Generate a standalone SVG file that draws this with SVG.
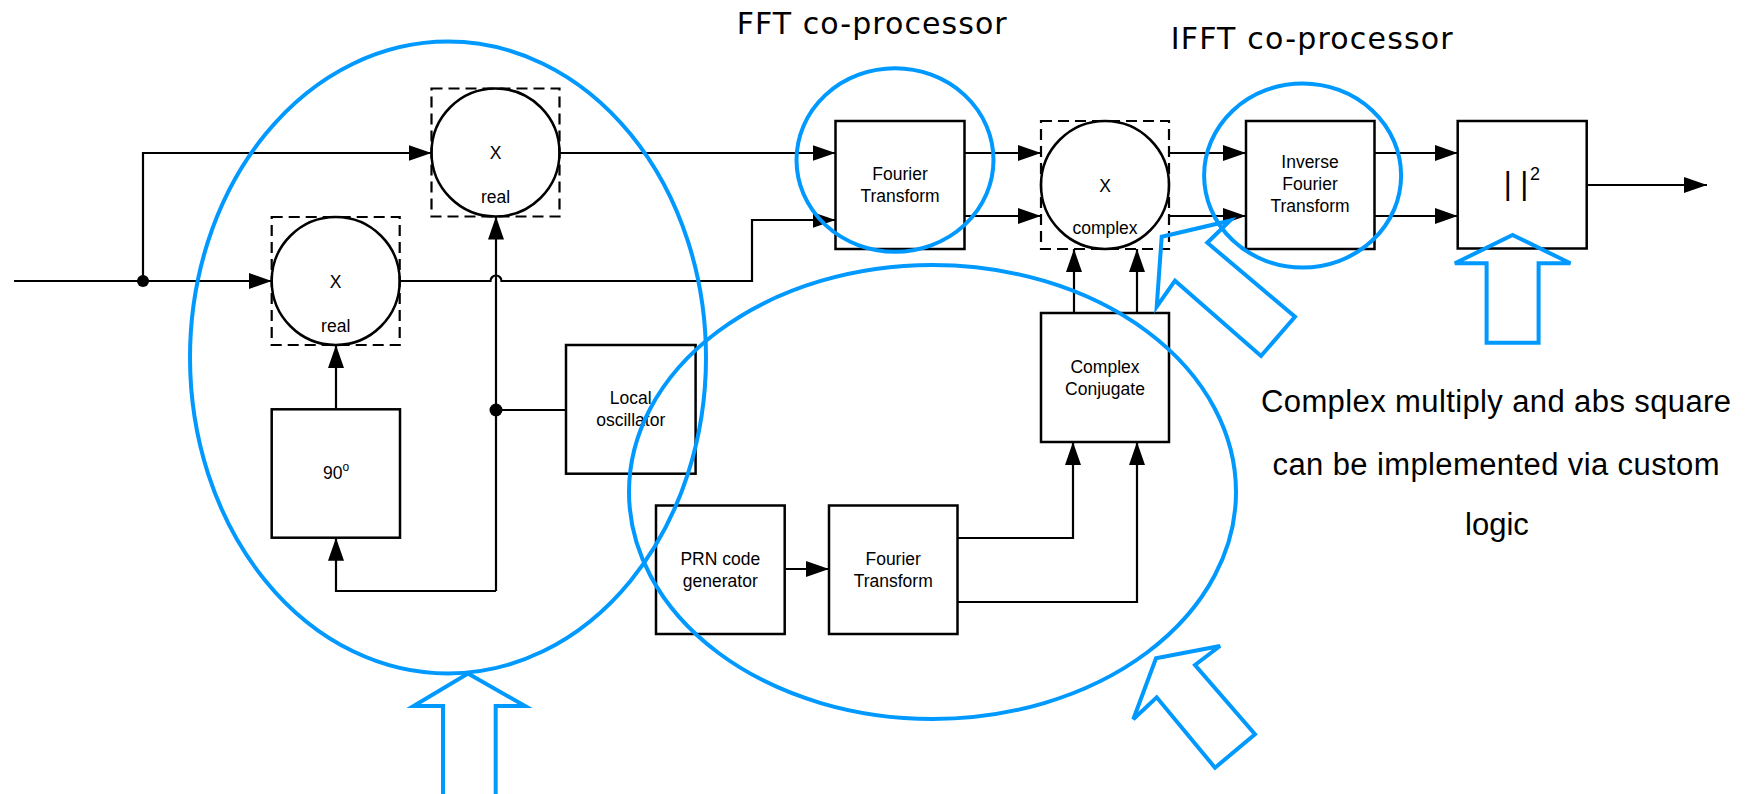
<svg xmlns="http://www.w3.org/2000/svg" width="1747" height="794" viewBox="0 0 1747 794">
<defs>
<marker id="ah" markerUnits="userSpaceOnUse" markerWidth="24" markerHeight="16" refX="23" refY="8" orient="auto"><path d="M0,0 L23,8 L0,16 z" fill="#000"/></marker>
<style>
.box{fill:#fff;stroke:#000;stroke-width:2.5}
.circ{fill:#fff;stroke:#000;stroke-width:2.5}
.dash{fill:none;stroke:#000;stroke-width:2.2;stroke-dasharray:11 6}
.lbl{font-family:"Liberation Sans",Arial,sans-serif;font-size:17.5px;fill:#000;text-anchor:middle}
.wire{fill:none;stroke:#000;stroke-width:2.2}
.arr{marker-end:url(#ah)}
.blue{fill:none;stroke:#0099ff;stroke-width:4}
.title{font-family:"DejaVu Sans",Verdana,sans-serif;font-size:30px;fill:#000}
.note{font-family:"Liberation Sans",Arial,sans-serif;font-size:31px;fill:#000;text-anchor:middle}
</style>
</defs>
<rect width="1747" height="794" fill="#fff"/>

<g id="connectors">
<path class="wire arr" d="M14,281 H271.7"/>
<path class="wire arr" d="M143,281 V153 H431.5"/>
<path class="wire arr" d="M559.5,153 H835.5"/>
<path class="wire arr" d="M399.7,281 H490.5 A5.5,5.5 0 0 1 501.5,281 H752 V220 H835.5"/>
<path class="wire arr" d="M964.5,153 H1041"/>
<path class="wire arr" d="M964.5,216 H1041"/>
<path class="wire arr" d="M1169,153 H1246"/>
<path class="wire arr" d="M1169,216 H1246"/>
<path class="wire arr" d="M1374.5,153 H1457.7"/>
<path class="wire arr" d="M1374.5,216 H1457.7"/>
<path class="wire arr" d="M1586.7,185 H1707"/>
<path class="wire arr" d="M1074,313 V249"/>
<path class="wire arr" d="M1137,313 V249"/>
<path class="wire arr" d="M957.5,538 H1073 V442"/>
<path class="wire arr" d="M957.5,602 H1137 V442"/>
<path class="wire arr" d="M784.7,569 H829"/>
<path class="wire" d="M566,410 H496"/>
<path class="wire arr" d="M496,591 V216.5"/>
<path class="wire arr" d="M496,591 H336 V537.7"/>
<path class="wire arr" d="M336,409.3 V345"/>
<circle cx="143" cy="281" r="6" fill="#000"/>
<circle cx="496" cy="410" r="6.5" fill="#000"/>
</g>

<g id="mult-real-top">
<circle class="circ" cx="495.5" cy="152.5" r="64"/>
<rect class="dash" x="431.5" y="88.5" width="128" height="128"/>
<text class="lbl" x="495.5" y="159">X</text>
<text class="lbl" x="495.5" y="203">real</text>
</g>

<g id="mult-real-bottom">
<circle class="circ" cx="335.7" cy="281" r="64"/>
<rect class="dash" x="271.7" y="217" width="128" height="128"/>
<text class="lbl" x="335.7" y="287.5">X</text>
<text class="lbl" x="335.7" y="331.5">real</text>
</g>

<g id="phase90">
<rect class="box" x="271.7" y="409.3" width="128.3" height="128.4"/>
<text class="lbl" x="336" y="479.3">90<tspan font-size="12px" dy="-8.6">o</tspan></text>
</g>

<g id="local-osc">
<rect class="box" x="566" y="345" width="129.6" height="128.7"/>
<text class="lbl" x="630.7" y="404">Local</text>
<text class="lbl" x="630.7" y="425.7">oscillator</text>
</g>

<g id="fft">
<rect class="box" x="835.5" y="121" width="129" height="128"/>
<text class="lbl" x="900" y="180">Fourier</text>
<text class="lbl" x="900" y="201.5">Transform</text>
</g>

<g id="mult-complex">
<circle class="circ" cx="1105" cy="185" r="64"/>
<rect class="dash" x="1041" y="121" width="128" height="128"/>
<text class="lbl" x="1105" y="191.7">X</text>
<text class="lbl" x="1105" y="234">complex</text>
</g>

<g id="ifft">
<rect class="box" x="1246" y="121" width="128.5" height="128"/>
<text class="lbl" x="1310" y="168.3">Inverse</text>
<text class="lbl" x="1310" y="190">Fourier</text>
<text class="lbl" x="1310" y="212">Transform</text>
</g>

<g id="abs-square">
<rect class="box" x="1457.7" y="121" width="129" height="127.5"/>
<text x="1516" y="194.3" font-family="'Liberation Sans',Arial,sans-serif" font-size="31px" text-anchor="middle">| |</text>
<text x="1530" y="180" font-family="'Liberation Sans',Arial,sans-serif" font-size="18px">2</text>
</g>

<g id="complex-conj">
<rect class="box" x="1041" y="313" width="128" height="129"/>
<text class="lbl" x="1105" y="373">Complex</text>
<text class="lbl" x="1105" y="394.5">Conjugate</text>
</g>

<g id="prn">
<rect class="box" x="656" y="505.5" width="128.7" height="128.5"/>
<text class="lbl" x="720.3" y="565">PRN code</text>
<text class="lbl" x="720.3" y="586.5">generator</text>
</g>

<g id="fft-prn">
<rect class="box" x="829" y="505.5" width="128.5" height="128.5"/>
<text class="lbl" x="893.2" y="565">Fourier</text>
<text class="lbl" x="893.2" y="586.5">Transform</text>
</g>

<g id="annotations">
<text class="title" x="736.7" y="34.3" textLength="270" lengthAdjust="spacing">FFT co-processor</text>
<text class="title" x="1170.7" y="49.3" textLength="282" lengthAdjust="spacing">IFFT co-processor</text>
<text class="note" x="1496" y="412" textLength="470" lengthAdjust="spacing">Complex multiply and abs square</text>
<text class="note" x="1496" y="475" textLength="447" lengthAdjust="spacing">can be implemented via custom</text>
<text class="note" x="1497" y="535">logic</text>
<ellipse class="blue" cx="448" cy="357.5" rx="258" ry="316"/>
<ellipse class="blue" cx="932.5" cy="492" rx="303.5" ry="227"/>
<ellipse class="blue" cx="895" cy="160" rx="98.5" ry="91.7"/>
<ellipse class="blue" cx="1302.6" cy="175.5" rx="98.5" ry="92"/>
<polygon class="blue" points="468,673.5 525,706 495.7,706 495.7,800 443,800 443,706 413.6,706"/>
<polygon class="blue" points="1156,658.3 1220,646 1195,665 1255,734.3 1215,767.7 1156.7,697.3 1133.3,719.3"/>
<polygon class="blue" points="1161.7,236.7 1230,220.7 1207.3,242.7 1295,316.7 1261,356 1175,280.7 1156.7,306.7"/>
<polygon class="blue" points="1512.6,235 1570.4,263.3 1538.6,263.3 1538.6,342.7 1486.6,342.7 1486.6,263.3 1454.9,263.3"/>
</g>
</svg>
